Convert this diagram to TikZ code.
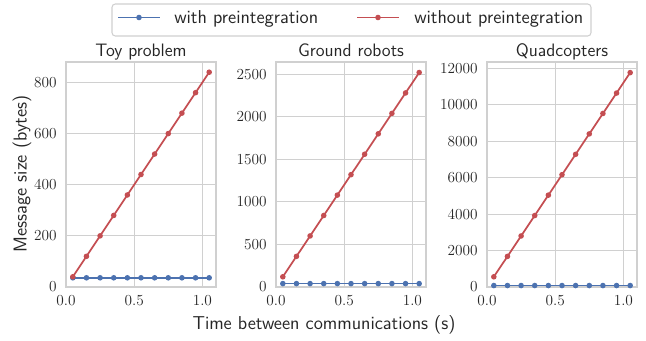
\documentclass[tikz,border=0pt]{standalone}
\usepackage{amsmath}
\usepackage{tikz}
\usepackage{xcolor}
\usetikzlibrary{positioning}

\definecolor{sbblue}{HTML}{4C72B0}
\definecolor{sbred}{HTML}{C44E52}
\definecolor{gridgray}{HTML}{D0D0D0}
\definecolor{textgray}{HTML}{262626}

\begin{document}
\begin{tikzpicture}[x=0.75pt,y=0.75pt,
  gridline/.style={gridgray, line width=0.8pt},
  axframe/.style={gridgray, line width=0.9pt},
  withline/.style={sbblue, line width=1.3pt},
  withoutline/.style={sbred, line width=1.3pt},
  dotwith/.style={circle, fill=sbblue, inner sep=0pt, minimum size=4.2pt},
  dotwithout/.style={circle, fill=sbred, inner sep=0pt, minimum size=4.2pt},
  ticklab/.style={font=\fontsize{11.5}{13}\selectfont, text=textgray, inner sep=0pt},
  titlelab/.style={font=\sffamily\fontsize{13.5}{16}\selectfont, text=textgray, inner sep=0pt},
  sanslab/.style={font=\sffamily\fontsize{14}{16}\selectfont, text=textgray, inner sep=0pt}]
\useasboundingbox (0,0) rectangle (646,340);

% legend
\draw [gridgray, line width=0.8pt, fill=white, rounded corners=2.5pt] (112,336) rectangle (591,304);
\coordinate (lw1) at (118,322.5);
\coordinate (lw2) at (160,322.5);
\coordinate (lo1) at (357,322.5);
\coordinate (lo2) at (399,322.5);
\draw [withline] (lw1) -- (lw2);
\node [dotwith] (lwdot) at (139,322.5) {};
\node [sanslab, anchor=west] (lwtext) at (174,321) {with preintegration};
\draw [withoutline] (lo1) -- (lo2);
\node [dotwithout] (lodot) at (378,322.5) {};
\node [sanslab, anchor=west] (lotext) at (414,321) {without preintegration};

% the three panels
\foreach \px/\ymax/\ystep/\ytop/\slope/\base/\ttl/\nm in
  {66/880/200/800/800/36/Toy problem/toy,
   276/2644/500/2500/2400/40/Ground robots/ground,
   487/12344/2000/12000/11200/80/Quadcopters/quad}{
  % grid
  \foreach \xv/\xl in {0/0.0,0.5/0.5,1/1.0}{
    \pgfmathsetmacro{\gx}{\px+150*\xv/1.1}
    \draw [gridline] (\gx,53) -- (\gx,278);
    \node [ticklab, anchor=north] (\nm x\xl) at (\gx,45) {\xl};
  }
  \foreach \yv in {0,\ystep,...,\ytop}{
    \pgfmathsetmacro{\gy}{53+225*(\yv/\ymax)}
    \draw [gridline] (\px,\gy) -- (\px+150,\gy);
    \node [ticklab, anchor=east] (\nm y\yv) at (\px-9,\gy) {\yv};
  }
  \draw [axframe] (\px,53) rectangle (\px+150,278);
  \node [titlelab, anchor=base] (\nm title) at (\px+75,283.5) {\ttl};
  % with preintegration
  \foreach \i in {0,...,10}{
    \pgfmathsetmacro{\dx}{\px+150*(0.05+0.1*\i)/1.1}
    \pgfmathsetmacro{\dy}{53+225*(\base/\ymax)}
    \node [dotwith] (w\nm\i) at (\dx,\dy) {};
  }
  \draw [withline] (w\nm0.center) -- (w\nm10.center);
  % without preintegration
  \foreach \i in {0,...,10}{
    \pgfmathsetmacro{\dx}{\px+150*(0.05+0.1*\i)/1.1}
    \pgfmathsetmacro{\dy}{53+225*((0.05+0.1*\i)*(\slope/\ymax))}
    \node [dotwithout] (o\nm\i) at (\dx,\dy) {};
  }
  \draw [withoutline] (o\nm0.center) -- (o\nm10.center);
}

\node [sanslab, rotate=90] (ylab) at (22,166) {Message size (bytes)};
\node [sanslab] (xlab) at (324,15) {Time between communications (s)};
\end{tikzpicture}
\end{document}
